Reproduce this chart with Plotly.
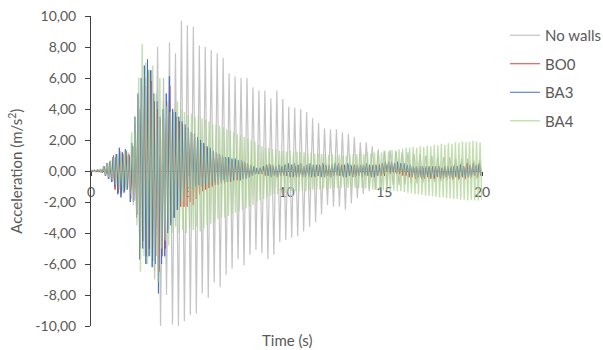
import numpy as np
import plotly.graph_objects as go

# ---------------- data: local extrema per oscillation cycle -------------
# No walls: period ~0.305 s, first positive peak at 0.05 s
nowalls_t0, nowalls_period = 0.05, 0.305
nowalls_pos = [0.05, 0.1, 0.2, 0.6, 0.9, 1.2, 1.0, 1.6, 4.0, 5.5,
               6.5, 8.0, 6.0, 8.3, 7.6, 9.7, 9.4, 9.3, 8.1, 8.0,
               7.8, 7.6, 7.3, 6.3, 6.1, 6.0, 6.0, 5.4, 5.2, 5.2,
               4.7, 5.2, 4.65, 4.15, 4.1, 4.0, 3.8, 3.4, 3.1, 2.75,
               2.7, 2.7, 2.5, 2.4, 2.2, 1.85, 1.85, 1.6, 1.4, 1.3,
               1.35, 1.3, 1.2, 1.2, 1.1, 1.1, 1.0, 1.0, 0.9, 0.9,
               0.9, 0.8, 0.8, 0.8, 0.7, 0.7]
nowalls_neg = [-0.05, -0.1, -0.2, -0.6, -1.0, -1.3, -1.2, -2.0, -4.5, -5.0,
               -7.0, -10.0, -8.0, -9.9, -10.0, -9.7, -9.3, -9.2, -7.9, -8.2,
               -7.2, -7.5, -6.7, -6.3, -5.7, -6.1, -5.4, -5.1, -5.3, -5.7,
               -5.4, -4.6, -4.45, -4.3, -4.2, -3.9, -3.6, -3.3, -2.8, -2.2,
               -2.3, -2.3, -2.5, -2.1, -1.75, -1.5, -1.3, -1.2, -1.05, -0.95,
               -0.9, -0.9, -0.85, -0.8, -0.8, -0.75, -0.7, -0.7, -0.65, -0.6,
               -0.6, -0.6, -0.55, -0.5, -0.5, -0.5]

# BO0: period ~0.16 s
bo0_t0, bo0_period = 0.19, 0.16
bo0_pos = [0.05, 0.05, 0.1, 0.3, 0.5, 0.6, 1.0, 1.0, 1.3, 1.1,
           1.3, 1.0, 1.6, 3.0, 4.8, 5.5, 6.0, 6.5, 5.8, 4.5,
           4.0, 3.3, 3.8, 4.5, 5.5, 3.8, 3.5, 3.2, 3.0, 2.8,
           2.6, 2.4, 2.2, 2.0, 1.8, 1.6, 1.5, 1.3, 1.2, 1.1,
           1.0, 0.9, 0.8, 0.8, 0.7, 0.7, 0.6, 0.6, 0.5, 0.4,
           0.3, 0.3, 0.2, 0.2, 0.3, 0.4, 0.4, 0.3, 0.3, 0.4,
           0.3, 0.4, 0.4, 0.4, 0.3, 0.4, 0.4, 0.3, 0.4, 0.4,
           0.3, 0.4, 0.3, 0.4, 0.3, 0.4, 0.3, 0.4, 0.5, 0.4,
           0.3, 0.4, 0.3, 0.4, 0.3, 0.4, 0.3, 0.4, 0.3, 0.4,
           0.3, 0.4, 0.5, 0.5, 0.6, 0.5, 0.5, 0.4, 0.4, 0.3,
           0.3, 0.3, 0.2, 0.2, 0.3, 0.2, 0.3, 0.2, 0.3, 0.2,
           0.3, 0.2, 0.3, 0.2, 0.3, 0.4, 0.3, 0.4, 0.3, 0.5,
           0.4, 0.5, 0.4, 0.5]
bo0_neg = [-0.05, -0.05, -0.1, -0.3, -0.5, -0.7, -1.2, -1.4, -1.5, -1.3,
           -1.1, -1.8, -1.9, -2.8, -5.0, -4.5, -5.5, -5.0, -5.8, -5.5,
           -6.5, -5.5, -5.0, -3.8, -3.3, -3.0, -2.5, -2.3, -2.3, -2.3,
           -2.0, -2.2, -1.8, -1.5, -1.3, -1.2, -1.1, -1.0, -0.9, -0.9,
           -0.8, -0.8, -0.7, -0.7, -0.6, -0.6, -0.6, -0.5, -0.5, -0.4,
           -0.3, -0.2, -0.2, -0.2, -0.3, -0.3, -0.4, -0.3, -0.4, -0.3,
           -0.3, -0.3, -0.4, -0.3, -0.4, -0.3, -0.4, -0.3, -0.4, -0.3,
           -0.4, -0.3, -0.3, -0.4, -0.3, -0.4, -0.3, -0.3, -0.3, -0.4,
           -0.3, -0.3, -0.4, -0.3, -0.3, -0.4, -0.3, -0.3, -0.4, -0.3,
           -0.3, -0.3, -0.2, -0.1, -0.2, -0.1, -0.2, -0.2, -0.3, -0.3,
           -0.4, -0.4, -0.5, -0.4, -0.5, -0.5, -0.4, -0.5, -0.5, -0.4,
           -0.5, -0.5, -0.4, -0.5, -0.5, -0.4, -0.5, -0.4, -0.5, -0.4,
           -0.4, -0.3, -0.4, -0.3]

# BA3: period ~0.16 s
ba3_t0, ba3_period = 0.17, 0.16
ba3_pos = [0.05, 0.05, 0.1, 0.3, 0.5, 0.6, 0.9, 1.1, 1.5, 1.2,
           1.4, 1.1, 1.8, 3.5, 5.0, 6.0, 6.8, 7.2, 6.5, 5.0,
           4.5, 3.5, 4.0, 5.0, 6.1, 4.0, 3.8, 3.5, 3.2, 3.0,
           2.8, 2.5, 2.4, 2.2, 2.0, 1.8, 1.6, 1.5, 1.3, 1.2,
           1.1, 1.0, 0.9, 0.9, 0.8, 0.8, 0.7, 0.7, 0.6, 0.5,
           0.4, 0.3, 0.2, 0.2, 0.3, 0.4, 0.5, 0.4, 0.3, 0.4,
           0.3, 0.4, 0.5, 0.4, 0.5, 0.4, 0.5, 0.3, 0.4, 0.5,
           0.4, 0.3, 0.4, 0.5, 0.4, 0.3, 0.4, 0.5, 0.4, 0.3,
           0.4, 0.5, 0.4, 0.3, 0.4, 0.3, 0.4, 0.5, 0.4, 0.3,
           0.4, 0.3, 0.5, 0.6, 0.5, 0.6, 0.5, 0.6, 0.5, 0.5,
           0.4, 0.4, 0.3, 0.3, 0.2, 0.3, 0.2, 0.3, 0.2, 0.3,
           0.3, 0.2, 0.3, 0.3, 0.2, 0.3, 0.3, 0.4, 0.3, 0.4,
           0.3, 0.4, 0.3, 0.4]
ba3_neg = [-0.05, -0.05, -0.1, -0.3, -0.5, -0.7, -1.0, -1.5, -1.7, -1.4,
           -1.2, -2.0, -2.0, -3.0, -5.7, -5.0, -6.0, -5.5, -6.2, -6.0,
           -7.9, -6.0, -5.5, -4.0, -3.5, -3.0, -2.5, -2.0, -1.5, -1.2,
           -1.0, -1.2, -1.0, -0.9, -1.0, -0.8, -0.9, -0.8, -0.7, -0.8,
           -0.7, -0.6, -0.7, -0.6, -0.6, -0.5, -0.6, -0.5, -0.5, -0.4,
           -0.3, -0.2, -0.2, -0.1, -0.2, -0.3, -0.4, -0.3, -0.4, -0.3,
           -0.2, -0.3, -0.3, -0.4, -0.3, -0.4, -0.3, -0.4, -0.3, -0.4,
           -0.3, -0.3, -0.4, -0.3, -0.3, -0.4, -0.3, -0.2, -0.3, -0.3,
           -0.4, -0.3, -0.3, -0.4, -0.3, -0.3, -0.2, -0.3, -0.3, -0.4,
           -0.3, -0.2, -0.1, 0.0, -0.1, 0.0, -0.1, 0.0, -0.1, -0.2,
           -0.2, -0.3, -0.3, -0.4, -0.4, -0.4, -0.3, -0.4, -0.4, -0.3,
           -0.4, -0.3, -0.4, -0.3, -0.4, -0.3, -0.4, -0.3, -0.3, -0.4,
           -0.3, -0.3, -0.2, -0.3]

# BA4: period ~0.18 s
ba4_t0, ba4_period = 0.10, 0.18
ba4_pos = [0.03, 0.05, 0.1, 0.3, 0.5, 0.7, 0.9, 1.1, 1.0, 1.4,
           1.2, 2.5, 3.5, 6.0, 8.2, 7.0, 6.5, 6.8, 5.0, 6.0,
           4.5, 4.2, 3.8, 4.0, 4.5, 4.0, 3.8, 3.6, 3.7, 3.5,
           3.6, 3.4, 3.3, 3.2, 3.0, 3.0, 2.9, 2.8, 2.7, 2.6,
           2.5, 2.4, 2.3, 2.2, 2.1, 2.0, 1.9, 1.7, 1.6, 1.5,
           1.5, 1.4, 1.4, 1.3, 1.3, 1.25, 1.3, 1.2, 1.25, 1.2,
           1.2, 1.15, 1.2, 1.1, 1.15, 1.1, 1.1, 1.05, 1.1, 1.0,
           1.05, 1.0, 1.0, 1.05, 1.1, 1.1, 1.15, 1.1, 1.2, 1.15,
           1.2, 1.25, 1.2, 1.3, 1.25, 1.35, 1.3, 1.4, 1.45, 1.5,
           1.5, 1.55, 1.5, 1.6, 1.55, 1.65, 1.6, 1.7, 1.65, 1.75,
           1.7, 1.8, 1.75, 1.85, 1.8, 1.9, 1.85, 1.9, 1.95, 1.9,
           1.85]
ba4_neg = [-0.03, -0.05, -0.1, -0.25, -0.4, -0.6, -0.9, -1.2, -1.3, -1.2,
           -1.5, -2.2, -3.5, -6.5, -5.5, -6.0, -5.5, -6.5, -7.2, -5.0,
           -4.5, -4.8, -4.0, -3.6, -4.0, -3.8, -4.0, -3.7, -3.8, -3.6,
           -3.9, -3.7, -3.5, -3.4, -3.3, -3.1, -3.0, -3.0, -2.9, -2.8,
           -2.7, -2.6, -2.5, -2.4, -2.3, -2.2, -2.0, -1.9, -1.8, -1.7,
           -1.6, -1.5, -1.5, -1.4, -1.4, -1.35, -1.3, -1.3, -1.3, -1.25,
           -1.3, -1.25, -1.2, -1.2, -1.2, -1.15, -1.2, -1.15, -1.1, -1.1,
           -1.1, -1.05, -1.1, -1.05, -1.1, -1.1, -1.1, -1.15, -1.15, -1.2,
           -1.2, -1.2, -1.25, -1.2, -1.3, -1.25, -1.3, -1.3, -1.35, -1.4,
           -1.45, -1.5, -1.5, -1.55, -1.6, -1.6, -1.65, -1.65, -1.7, -1.7,
           -1.75, -1.75, -1.8, -1.8, -1.85, -1.85, -1.9, -1.85, -1.9, -1.9,
           -1.85]

y_tickvals = [-10, -8, -6, -4, -2, 0, 2, 4, 6, 8, 10]
y_ticktext = ["-10,00", "-8,00", "-6,00", "-4,00", "-2,00", "0,00",
              "2,00", "4,00", "6,00", "8,00", "10,00"]
x_tickvals = [0, 5, 10, 15, 20]


def zigzag(t0, period, pos, neg):
    n = len(pos)
    tp = t0 + period * np.arange(n)
    x = np.empty(2 * n)
    y = np.empty(2 * n)
    x[0::2] = tp
    x[1::2] = tp + period / 2
    y[0::2] = pos
    y[1::2] = neg
    return np.concatenate([[0.0], x]), np.concatenate([[0.0], y])


series = [
    ("No walls", nowalls_t0, nowalls_period, nowalls_pos, nowalls_neg, "#c4c4c4", 1.2),
    ("BO0", bo0_t0, bo0_period, bo0_pos, bo0_neg, "#e8383d", 1.0),
    ("BA3", ba3_t0, ba3_period, ba3_pos, ba3_neg, "#4472c4", 1.0),
    ("BA4", ba4_t0, ba4_period, ba4_pos, ba4_neg, "rgba(169,209,142,0.7)", 1.4),
]

fig = go.Figure()
for i, (name, t0, per, pos, neg, col, w) in enumerate(series):
    x, y = zigzag(t0, per, pos, neg)
    fig.add_trace(go.Scatter(x=x, y=y, mode="lines", name=name, legendgroup=str(i),
                             line=dict(color=col, width=w)))

txt = "#595959"
fig.update_layout(
    width=603, height=350,
    margin=dict(l=91, r=121, t=16, b=24, autoexpand=False),
    paper_bgcolor="white", plot_bgcolor="white",
    font=dict(family="Lato", size=14, color=txt),
    showlegend=True,
    legend=dict(x=505 / 603, y=1 - 19 / 350, xref="container", yref="container",
                xanchor="left", yanchor="top",
                font=dict(size=15, color=txt), tracegroupgap=6,
                bgcolor="rgba(0,0,0,0)"),
    xaxis=dict(range=[0, 20], tickvals=x_tickvals, showgrid=False, zeroline=False,
               anchor="free", position=0.5, showline=True, linecolor="#404040",
               linewidth=1, ticks="outside", ticklen=4, tickcolor="#404040",
               ticklabelstandoff=4, layer="below traces", automargin=False,
               tickfont=dict(size=14, color=txt)),
    yaxis=dict(range=[-10, 10], tickvals=y_tickvals, ticktext=y_ticktext,
               showgrid=False, zeroline=False, showline=True, linecolor="#404040",
               linewidth=1, ticks="outside", ticklen=5, tickcolor="#404040",
               ticklabelstandoff=6, automargin=False,
               tickfont=dict(size=14, color=txt)),
    annotations=[
        dict(text="Time (s)", xref="paper", yref="paper", x=0.5, y=-0.045,
             xanchor="center", yanchor="middle", showarrow=False,
             font=dict(size=15, color=txt)),
        dict(text="Acceleration (m/s<sup>2</sup>)", xref="paper", yref="paper",
             x=-0.195, y=0.5, xanchor="center", yanchor="middle", textangle=-90,
             showarrow=False, font=dict(size=15, color=txt)),
    ],
)

fig.write_html("out.html", config={"displayModeBar": False},
               post_script="document.body.style.margin='0px';document.body.style.overflow='hidden';")
